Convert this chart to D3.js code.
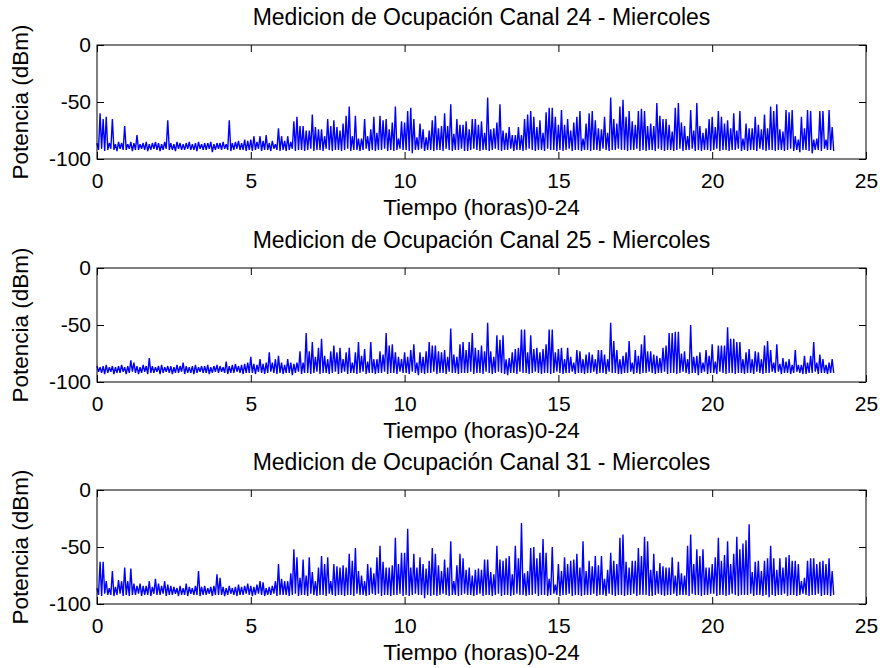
<!DOCTYPE html>
<html lang="es">
<head>
	<meta charset="UTF-8">
	<title>Medicion de Ocupación - Miercoles</title>
	<style>
		* {
			margin: 0;
			padding: 0;
		}
		body {
			background: #fff;
		}
		svg {
			display: block;
			font-family: "Liberation Sans", Arial, Helvetica, sans-serif;
		}
	</style>
</head>
<body>
	<script src="https://cdn.jsdelivr.net/npm/d3@7"></script>
	<script>
		// horas entre muestras (pico, luego fondo a mitad de paso)
		var step = 0.1;
		var xTicks = [0, 5, 10, 15, 20, 25];
		var yTicks = [-100, -50, 0];
		var canales = ['24', '25', '31'];

		// Canal 24: picos por cada 0.1 h (una fila = una hora)
		var pico24 = [
			-86,-60,-65,-63,-86,-65,-87,-85,-86,-71,
			-87,-85,-86,-79,-87,-86,-85,-87,-86,-85,
			-86,-87,-85,-66,-86,-87,-85,-86,-87,-86,
			-85,-87,-86,-85,-87,-86,-86,-85,-87,-86,
			-86,-85,-87,-66,-86,-85,-84,-86,-83,-84,
			-83,-80,-85,-80,-84,-79,-86,-84,-87,-73,
			-80,-84,-80,-85,-67,-63,-71,-71,-75,-75,
			-61,-72,-74,-74,-80,-65,-71,-66,-72,-75,
			-69,-62,-54,-80,-62,-82,-82,-65,-80,-74,
			-63,-77,-62,-66,-65,-74,-68,-54,-82,-67,
			-68,-58,-55,-65,-81,-69,-74,-81,-75,-66,
			-62,-73,-71,-60,-71,-52,-78,-65,-70,-70,
			-67,-74,-65,-65,-70,-67,-77,-46,-74,-73,
			-68,-52,-75,-77,-72,-79,-79,-72,-79,-65,
			-61,-58,-63,-72,-66,-77,-59,-55,-55,-63,
			-70,-57,-70,-65,-75,-68,-63,-58,-82,-69,
			-60,-58,-66,-73,-74,-63,-77,-46,-65,-69,
			-54,-48,-63,-58,-67,-70,-58,-56,-58,-71,
			-69,-71,-51,-62,-65,-65,-70,-76,-55,-51,
			-68,-71,-80,-57,-75,-51,-71,-77,-73,-65,
			-63,-72,-58,-63,-69,-66,-73,-60,-75,-58,
			-82,-69,-73,-73,-63,-70,-74,-61,-73,-54,
			-58,-52,-74,-76,-57,-59,-57,-80,-83,-63,
			-73,-57,-58,-83,-82,-58,-58,-83,-57,-72
		];
		var fondo24 = [
			-92,-91,-93,-92,-91,-92,-93,-91,-92,-92,
			-91,-93,-92,-92,-91,-92,-93,-92,-91,-92,
			-93,-92,-91,-92,-92,-93,-91,-92,-92,-91,
			-92,-92,-93,-91,-92,-92,-91,-94,-92,-91,
			-92,-91,-92,-93,-92,-91,-92,-92,-93,-92,
			-93,-92,-91,-93,-92,-92,-93,-91,-92,-93,
			-92,-93,-92,-91,-93,-92,-92,-93,-92,-91,
			-93,-92,-92,-93,-91,-92,-93,-92,-92,-93,
			-92,-91,-93,-92,-92,-93,-92,-91,-93,-92,
			-93,-92,-92,-91,-93,-92,-93,-92,-91,-92,
			-92,-93,-95,-92,-92,-91,-93,-92,-92,-93,
			-92,-92,-93,-91,-92,-93,-92,-92,-91,-93,
			-93,-92,-91,-92,-93,-92,-92,-93,-92,-91,
			-92,-93,-92,-92,-91,-93,-92,-92,-93,-92,
			-91,-92,-93,-92,-92,-93,-91,-92,-92,-93,
			-92,-93,-92,-91,-93,-92,-92,-93,-92,-92,
			-93,-92,-92,-93,-91,-92,-93,-92,-92,-91,
			-92,-92,-93,-92,-92,-91,-93,-92,-93,-92,
			-92,-93,-91,-92,-93,-92,-92,-93,-92,-91,
			-93,-92,-92,-91,-93,-92,-93,-92,-92,-93,
			-92,-91,-93,-92,-92,-93,-92,-92,-91,-93,
			-92,-93,-92,-92,-93,-91,-92,-93,-92,-92,
			-93,-92,-92,-93,-92,-91,-93,-92,-94,-92,
			-92,-93,-95,-92,-92,-93,-91,-92,-92,-93
		];

		// Canal 25
		var pico25 = [
			-86,-87,-86,-85,-87,-86,-87,-86,-85,-87,
			-86,-81,-83,-86,-87,-85,-86,-79,-86,-87,
			-86,-85,-87,-86,-86,-87,-85,-86,-83,-86,
			-87,-86,-85,-87,-86,-86,-85,-87,-86,-85,
			-86,-87,-82,-86,-85,-84,-86,-85,-84,-83,
			-78,-84,-85,-80,-84,-83,-74,-83,-80,-77,
			-83,-85,-80,-83,-84,-83,-73,-83,-57,-73,
			-65,-78,-70,-62,-77,-80,-73,-68,-74,-70,
			-80,-74,-70,-83,-74,-65,-77,-71,-82,-65,
			-80,-80,-73,-76,-57,-68,-67,-74,-78,-80,
			-74,-78,-72,-67,-83,-74,-78,-73,-65,-68,
			-68,-73,-74,-72,-78,-53,-76,-78,-67,-65,
			-72,-65,-57,-70,-72,-68,-73,-48,-73,-78,
			-59,-63,-59,-80,-79,-74,-71,-70,-54,-54,
			-74,-59,-71,-70,-74,-71,-67,-54,-54,-74,
			-71,-70,-80,-70,-78,-83,-72,-73,-80,-76,
			-74,-76,-80,-72,-72,-76,-80,-48,-64,-72,
			-80,-77,-74,-64,-83,-72,-77,-67,-59,-73,
			-73,-76,-77,-79,-70,-68,-57,-57,-56,-56,
			-75,-73,-80,-50,-78,-77,-74,-83,-72,-77,
			-67,-82,-68,-68,-68,-52,-62,-62,-65,-65,
			-80,-74,-71,-80,-73,-74,-80,-68,-64,-72,
			-83,-67,-84,-79,-82,-80,-85,-72,-85,-85,
			-77,-83,-77,-65,-83,-76,-80,-85,-83,-80
		];
		var fondo25 = [
			-91,-92,-93,-92,-91,-93,-92,-92,-91,-93,
			-92,-91,-92,-93,-92,-91,-93,-92,-92,-91,
			-93,-92,-91,-92,-93,-92,-92,-91,-93,-92,
			-92,-93,-92,-91,-92,-92,-93,-92,-91,-92,
			-91,-92,-93,-92,-92,-91,-92,-93,-92,-92,
			-92,-93,-91,-92,-93,-92,-91,-92,-93,-92,
			-93,-92,-92,-94,-92,-91,-93,-92,-92,-93,
			-92,-91,-93,-92,-92,-93,-92,-91,-93,-92,
			-91,-93,-92,-92,-93,-92,-91,-93,-92,-92,
			-93,-92,-92,-91,-93,-92,-92,-93,-91,-92,
			-92,-93,-91,-92,-94,-92,-93,-92,-92,-91,
			-93,-92,-92,-93,-91,-92,-92,-93,-92,-92,
			-92,-91,-93,-92,-92,-93,-91,-92,-93,-92,
			-91,-92,-93,-94,-92,-92,-93,-91,-92,-92,
			-93,-92,-91,-92,-93,-92,-92,-93,-92,-91,
			-92,-93,-92,-92,-91,-93,-92,-92,-93,-92,
			-92,-91,-93,-92,-92,-93,-91,-92,-92,-93,
			-93,-92,-92,-91,-93,-92,-93,-92,-92,-91,
			-92,-93,-92,-92,-91,-93,-92,-92,-93,-92,
			-91,-92,-93,-92,-92,-94,-92,-91,-93,-92,
			-92,-93,-91,-92,-93,-92,-92,-93,-92,-92,
			-93,-92,-92,-93,-91,-92,-93,-92,-92,-91,
			-92,-91,-93,-92,-92,-93,-92,-91,-92,-93,
			-93,-92,-92,-91,-93,-92,-92,-93,-92,-92
		];

		// Canal 31
		var pico31 = [
			-86,-63,-63,-80,-86,-71,-85,-79,-80,-68,
			-80,-69,-82,-84,-82,-84,-84,-80,-85,-78,
			-82,-84,-80,-83,-84,-85,-86,-84,-86,-82,
			-85,-86,-84,-71,-85,-84,-86,-85,-84,-74,
			-77,-85,-86,-84,-86,-85,-83,-85,-84,-82,
			-84,-85,-83,-80,-81,-86,-85,-84,-80,-65,
			-78,-80,-80,-73,-52,-59,-77,-61,-75,-59,
			-72,-80,-68,-58,-65,-59,-80,-65,-67,-68,
			-66,-68,-56,-62,-51,-71,-75,-80,-65,-68,
			-73,-59,-49,-63,-68,-68,-66,-42,-65,-55,
			-55,-34,-68,-56,-68,-59,-65,-69,-62,-51,
			-56,-66,-71,-61,-68,-45,-80,-66,-56,-60,
			-70,-68,-75,-70,-69,-70,-61,-61,-72,-74,
			-49,-61,-62,-60,-58,-74,-49,-60,-29,-73,
			-71,-51,-50,-60,-55,-43,-55,-78,-50,-83,
			-65,-71,-59,-65,-62,-61,-56,-68,-45,-71,
			-62,-67,-58,-66,-58,-78,-70,-55,-62,-65,
			-42,-39,-63,-68,-62,-62,-51,-58,-41,-45,
			-70,-56,-71,-64,-67,-68,-68,-59,-75,-63,
			-73,-75,-49,-39,-65,-52,-58,-52,-68,-68,
			-65,-59,-42,-62,-57,-45,-65,-56,-41,-52,
			-47,-44,-30,-72,-63,-62,-71,-62,-60,-49,
			-60,-70,-60,-68,-59,-57,-62,-62,-65,-80,
			-77,-62,-60,-60,-65,-63,-62,-65,-60,-71
		];
		var fondo31 = [
			-92,-93,-91,-92,-92,-93,-92,-91,-93,-92,
			-93,-92,-92,-91,-93,-92,-92,-93,-91,-92,
			-92,-91,-93,-92,-92,-91,-93,-92,-92,-93,
			-91,-92,-92,-93,-92,-92,-91,-93,-92,-92,
			-92,-93,-92,-91,-92,-93,-92,-92,-91,-92,
			-93,-92,-91,-92,-93,-92,-92,-91,-93,-92,
			-92,-92,-93,-92,-91,-93,-92,-92,-93,-91,
			-92,-93,-92,-92,-93,-91,-92,-93,-92,-92,
			-93,-92,-92,-93,-91,-92,-92,-93,-92,-91,
			-92,-91,-93,-92,-92,-93,-92,-92,-91,-93,
			-92,-93,-92,-91,-92,-92,-95,-92,-93,-92,
			-93,-92,-91,-92,-93,-92,-92,-93,-92,-91,
			-92,-92,-93,-92,-91,-93,-92,-92,-93,-92,
			-91,-93,-92,-92,-93,-92,-91,-92,-92,-93,
			-92,-92,-91,-93,-92,-92,-93,-92,-91,-92,
			-93,-92,-92,-91,-93,-92,-92,-93,-92,-92,
			-92,-91,-93,-92,-92,-93,-91,-92,-93,-92,
			-92,-93,-92,-92,-91,-93,-92,-92,-92,-93,
			-93,-92,-91,-92,-93,-92,-92,-91,-93,-92,
			-92,-92,-93,-91,-92,-92,-93,-92,-92,-91,
			-91,-93,-92,-92,-93,-92,-91,-92,-93,-92,
			-92,-92,-91,-93,-92,-92,-93,-92,-94,-92,
			-93,-92,-92,-91,-93,-92,-92,-93,-92,-91,
			-92,-93,-92,-92,-91,-93,-92,-92,-93,-92
		];

		var picos = [pico24, pico25, pico31];
		var fondos = [fondo24, fondo25, fondo31];

		var contentWidth = 880, contentHeight = 668;
		var left = 97, right = 866;
		var tops = [45, 268, 490];
		var plotH = 114;
		var tickLen = 7;

		var svg = d3.select('body').append('svg')
			.attr('width', contentWidth)
			.attr('height', contentHeight);

		var xScale = d3.scaleLinear().domain([0, 25]).range([left, right]);

		// guion normal en vez del signo menos de d3
		var fmt = function (d) { return String(d); };

		canales.forEach(function (canal, k) {
			var top = tops[k];
			var bottom = top + plotH;
			var yScale = d3.scaleLinear().domain([-100, 0]).range([bottom, top]);

			// pico en t, fondo a t + step/2
			var pts = [];
			picos[k].forEach(function (p, i) {
				pts.push([i * step, p]);
				pts.push([i * step + step / 2, fondos[k][i]]);
			});

			var line = d3.line()
				.x(function (d) { return xScale(d[0]); })
				.y(function (d) { return yScale(d[1]); });

			svg.append('path')
				.datum(pts)
				.attr('d', line)
				.attr('fill', 'none')
				.attr('stroke', '#0000ff')
				.attr('stroke-width', 1.4)
				.attr('stroke-linejoin', 'miter')
				.attr('stroke-miterlimit', 2);

			// caja
			svg.append('rect')
				.attr('x', left)
				.attr('y', top)
				.attr('width', right - left)
				.attr('height', plotH)
				.attr('fill', 'none')
				.attr('stroke', '#000')
				.attr('stroke-width', 1);

			var axB = svg.append('g')
				.attr('transform', 'translate(0,' + bottom + ')')
				.call(d3.axisBottom(xScale).tickValues(xTicks).tickFormat(fmt).tickSizeInner(-tickLen).tickSizeOuter(0).tickPadding(14));
			var axT = svg.append('g')
				.attr('transform', 'translate(0,' + top + ')')
				.call(d3.axisTop(xScale).tickValues(xTicks).tickSizeInner(-tickLen).tickSizeOuter(0).tickFormat(''));
			var axL = svg.append('g')
				.attr('transform', 'translate(' + left + ',0)')
				.call(d3.axisLeft(yScale).tickValues(yTicks).tickFormat(fmt).tickSizeInner(-tickLen).tickSizeOuter(0).tickPadding(6));
			var axR = svg.append('g')
				.attr('transform', 'translate(' + right + ',0)')
				.call(d3.axisRight(yScale).tickValues(yTicks).tickSizeInner(-tickLen).tickSizeOuter(0).tickFormat(''));

			[axB, axT, axL, axR].forEach(function (g) {
				g.select('.domain').remove();
				g.attr('font-family', null).attr('font-size', null);
				g.selectAll('line').attr('stroke', '#000');
				g.selectAll('text').attr('fill', '#000').style('font-size', '21px');
			});

			// titulo
			svg.append('text')
				.attr('x', (left + right) / 2)
				.attr('y', top - 20)
				.attr('text-anchor', 'middle')
				.style('font-size', '23px')
				.text('Medicion de Ocupación Canal ' + canal + ' - Miercoles');

			// eje x
			svg.append('text')
				.attr('x', (left + right) / 2)
				.attr('y', bottom + 56)
				.attr('text-anchor', 'middle')
				.style('font-size', '22.5px')
				.text('Tiempo (horas)0-24');

			// eje y
			svg.append('text')
				.attr('transform', 'translate(28,' + (top + plotH / 2) + ') rotate(-90)')
				.attr('text-anchor', 'middle')
				.style('font-size', '22.5px')
				.text('Potencia (dBm)');
		});
	</script>
</body>
</html>
